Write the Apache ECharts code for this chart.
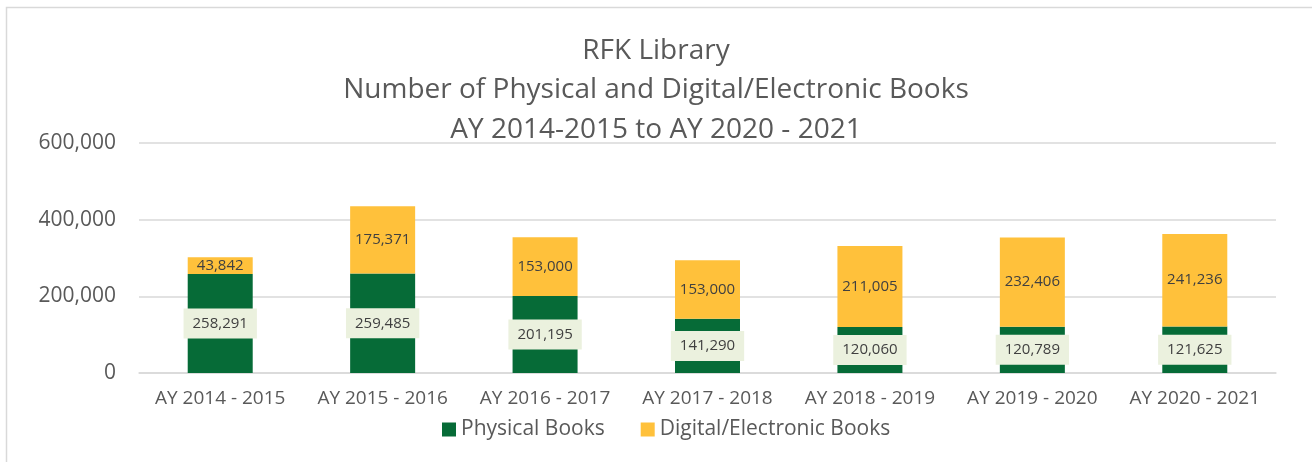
<!DOCTYPE html>
<html lang="en">
<head>
 <meta charset="UTF-8">
 <title>RFK Library</title>
 <style>
  html, body { margin: 0; padding: 0; background: #fff; }
 </style>
</head>
<body>
 <div id="main" style="width: 1312px;height:462px;"></div>
 <script src="https://cdn.jsdelivr.net/npm/echarts@6/dist/echarts.min.js"></script>
 <script type="text/javascript">
var years = ['AY 2014 - 2015', 'AY 2015 - 2016', 'AY 2016 - 2017', 'AY 2017 - 2018',
             'AY 2018 - 2019', 'AY 2019 - 2020', 'AY 2020 - 2021'];
var physicalBooks = [258291, 259485, 201195, 141290, 120060, 120789, 121625];
var digitalBooks = [43842, 175371, 153000, 153000, 211005, 232406, 241236];
var yTicks = [0, 200000, 400000, 600000];

var myChart = echarts.init(document.getElementById('main'));

function fmt(v) {
    return v.toLocaleString('en-US');
}

var font = 'Open Sans';

myChart.setOption({
    backgroundColor: '#fff',
    animation: false,
    title: {
        text: 'RFK Library\nNumber of Physical and Digital/Electronic Books\nAY 2014-2015 to AY 2020 - 2021',
        left: 'center',
        top: 26,
        textStyle: {
            color: '#595959',
            fontFamily: font,
            fontWeight: 'normal',
            fontSize: 28,
            lineHeight: 39.5
        }
    },
    legend: {
        bottom: 17,
        left: 437,
        itemWidth: 14,
        itemHeight: 14,
        itemGap: 36,
        icon: 'rect',
        textStyle: { color: '#595959', fontFamily: font, fontSize: 21 },
        data: ['Physical Books', 'Digital/Electronic Books']
    },
    grid: { left: 139, right: 36, top: 143, bottom: 89 },
    xAxis: {
        type: 'category',
        data: years,
        axisTick: { show: false },
        axisLine: { lineStyle: { color: '#d9d9d9', width: 1.5 } },
        axisLabel: { color: '#595959', fontFamily: font, fontSize: 19, margin: 16, interval: 0 }
    },
    yAxis: {
        type: 'value',
        min: yTicks[0],
        max: yTicks[yTicks.length - 1],
        interval: 200000,
        axisLine: { show: false },
        axisTick: { show: false },
        splitLine: { lineStyle: { color: '#d9d9d9', width: 1.5 } },
        axisLabel: {
            color: '#595959', fontFamily: font, fontSize: 21, margin: 23,
            formatter: function (v) { return fmt(v); }
        }
    },
    series: [{
        name: 'Physical Books',
        type: 'bar',
        stack: 'books',
        barWidth: 65,
        data: physicalBooks,
        itemStyle: { color: '#066b37' },
        label: {
            show: true,
            position: 'inside',
            color: '#404040',
            fontFamily: font,
            fontSize: 15,
            backgroundColor: '#ebf1de',
            padding: [8, 9, 7, 9],
            formatter: function (p) { return fmt(p.value); }
        }
    }, {
        name: 'Digital/Electronic Books',
        type: 'bar',
        stack: 'books',
        barWidth: 65,
        data: digitalBooks,
        itemStyle: { color: '#ffc13b' },
        label: {
            show: true,
            position: 'inside',
            color: '#404040',
            fontFamily: font,
            fontSize: 15,
            formatter: function (p) { return fmt(p.value); }
        }
    }],
    graphic: [{
        type: 'polyline',
        shape: { points: [[6.5, 462], [6.5, 7.5], [1312, 7.5]] },
        style: { stroke: '#d9d9d9', lineWidth: 1.5, fill: null },
        silent: true
    }]
});
 </script>
</body>
</html>
